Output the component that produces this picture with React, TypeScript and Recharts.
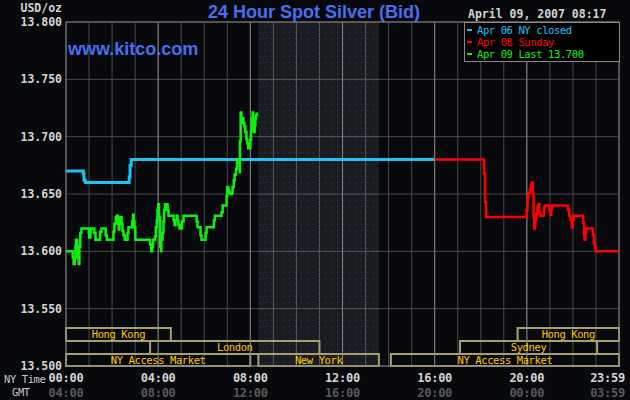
import {
  ComposedChart, Line, XAxis, YAxis, CartesianGrid, ReferenceArea, ReferenceLine, Legend
} from "recharts";

const MONO = '"DejaVu Sans Mono", monospace';
const SANS = '"Liberation Sans", Arial, sans-serif';

// [hour of day (NY time), bid USD/oz]
const apr06 = [
  [0, 13.670], [0.75, 13.668], [0.78, 13.662], [0.84, 13.660], [2.74, 13.665],
  [2.78, 13.675], [2.83, 13.680], [16.0, 13.680],
];

const apr08 = [
  [16.0, 13.680], [18.14, 13.668], [18.19, 13.643], [18.23, 13.630], [19.99, 13.636],
  [20.03, 13.646], [20.07, 13.651], [20.13, 13.654], [20.17, 13.658], [20.22, 13.660],
  [20.26, 13.651], [20.29, 13.630], [20.32, 13.620], [20.36, 13.627], [20.41, 13.633],
  [20.46, 13.639], [20.49, 13.641], [20.54, 13.634], [20.58, 13.631], [20.74, 13.638],
  [20.78, 13.640], [20.98, 13.636], [21.01, 13.632], [21.06, 13.637], [21.1, 13.640],
  [21.79, 13.636], [21.84, 13.631], [21.9, 13.627], [21.95, 13.621], [21.99, 13.627],
  [22.03, 13.631], [22.44, 13.625], [22.48, 13.614], [22.51, 13.610], [22.54, 13.617],
  [22.58, 13.620], [22.87, 13.614], [22.91, 13.607], [22.95, 13.603], [22.99, 13.600],
  [24.0, 13.600],
];

const apr09 = [
  [0, 13.600], [0.29, 13.595], [0.33, 13.589], [0.38, 13.595], [0.41, 13.604],
  [0.43, 13.610], [0.49, 13.604], [0.52, 13.594], [0.55, 13.589], [0.58, 13.604],
  [0.62, 13.616], [0.67, 13.620], [0.99, 13.616], [1.01, 13.612], [1.06, 13.617],
  [1.09, 13.620], [1.23, 13.616], [1.28, 13.610], [1.48, 13.617], [1.54, 13.620],
  [1.72, 13.614], [1.77, 13.610], [2.06, 13.617], [2.1, 13.624], [2.16, 13.630],
  [2.2, 13.631], [2.25, 13.624], [2.29, 13.619], [2.32, 13.627], [2.36, 13.630],
  [2.41, 13.624], [2.45, 13.618], [2.49, 13.614], [2.55, 13.610], [2.67, 13.616],
  [2.71, 13.621], [2.87, 13.626], [2.91, 13.632], [2.94, 13.626], [2.97, 13.621],
  [3.01, 13.610], [3.65, 13.606], [3.7, 13.600], [3.74, 13.604], [3.78, 13.610],
  [3.86, 13.613], [3.9, 13.621], [3.94, 13.627], [3.97, 13.636], [4.01, 13.641],
  [4.04, 13.630], [4.09, 13.604], [4.12, 13.600], [4.14, 13.610], [4.19, 13.616],
  [4.23, 13.626], [4.26, 13.636], [4.3, 13.641], [4.41, 13.636], [4.45, 13.631],
  [4.67, 13.627], [4.71, 13.623], [4.75, 13.627], [4.8, 13.631], [4.84, 13.627],
  [4.88, 13.623], [4.93, 13.620], [5.03, 13.626], [5.1, 13.631], [5.67, 13.626],
  [5.71, 13.621], [5.84, 13.614], [5.88, 13.610], [6.06, 13.616], [6.1, 13.621],
  [6.42, 13.627], [6.46, 13.631], [6.75, 13.634], [6.8, 13.640], [6.97, 13.648],
  [7.0, 13.656], [7.04, 13.653], [7.09, 13.651], [7.13, 13.650], [7.19, 13.651],
  [7.23, 13.656], [7.28, 13.662], [7.32, 13.667], [7.38, 13.672], [7.42, 13.680],
  [7.46, 13.677], [7.51, 13.678], [7.54, 13.669], [7.55, 13.696], [7.58, 13.721],
  [7.61, 13.712], [7.65, 13.716], [7.7, 13.712], [7.74, 13.709], [7.78, 13.704],
  [7.83, 13.698], [7.87, 13.694], [7.91, 13.690], [8.0, 13.697], [8.03, 13.705],
  [8.06, 13.716], [8.1, 13.721], [8.13, 13.710], [8.16, 13.704], [8.19, 13.710],
  [8.22, 13.716], [8.25, 13.719], [8.29, 13.721],
];

const series = [
  { name: "Apr 06 NY closed", color: "#1cc4f2", width: 3, points: apr06 },
  { name: "Apr 08 Sunday", color: "#ff0000", width: 2.5, points: apr08 },
  { name: "Apr 09 Last 13.700", color: "#10f010", width: 2.5, points: apr09 },
];

const priceTicks = [13.5, 13.55, 13.6, 13.65, 13.7, 13.75, 13.8];
const hourTicks = [0, 1, 2, 3, 4, 5, 6, 7, 8, 9, 10, 11, 12, 13, 14, 15, 16, 17, 18, 19, 20, 21, 22, 23, 24];
const majorHours = [0, 4, 8, 12, 16, 20, 24];
const nyLabels = ["00:00", "04:00", "08:00", "12:00", "16:00", "20:00", "23:59"];
const gmtLabels = ["04:00", "08:00", "12:00", "16:00", "20:00", "00:00", "03:59"];

// trading sessions, NY hours
const sessions = [
  { name: "Hong Kong", from: 0, to: 4.55, lane: 0 },
  { name: "Hong Kong", from: 19.6, to: 24, lane: 0 },
  { name: "London", from: 3.65, to: 11.0, lane: 1 },
  { name: "Sydney", from: 17.1, to: 23.05, lane: 1 },
  { name: "NY Access Market", from: 0, to: 8.0, lane: 2 },
  { name: "New York", from: 8.35, to: 13.58, lane: 2 },
  { name: "NY Access Market", from: 14.1, to: 24, lane: 2 },
];

const laneBands = [
  [13.5218, 13.5331],
  [13.5105, 13.5218],
  [13.5, 13.5105],
];

const nySession = sessions.find((s) => s.name === "New York")!;

const HourTick = ({ x, y, payload }: any) => {
  const i = majorHours.indexOf(payload.value);
  if (i < 0) return null;
  const last = i === majorHours.length - 1;
  const tx = last ? x + 6 : x;
  const anchor = last ? "end" : "middle";
  return (
    <g>
      <text x={tx} y={y + 16} textAnchor={anchor} fill="#d4d4d4" fontFamily={MONO} fontWeight="bold" fontSize={12} letterSpacing={-0.25}>
        {nyLabels[i]}
      </text>
      <text x={tx} y={y + 31} textAnchor={anchor} fill="#5a5a5a" fontFamily={MONO} fontWeight="bold" fontSize={12} letterSpacing={-0.25}>
        {gmtLabels[i]}
      </text>
    </g>
  );
};

const LegendBox = ({ payload }: any) => (
  <div style={{ background: "#000", border: "1px solid #8a8a8a", width: 154, height: 37, paddingTop: 1, boxSizing: "content-box" }}>
    {(payload || []).map((p: any) => (
      <div key={p.value} style={{ display: "flex", alignItems: "center", height: 12, color: p.color, fontFamily: MONO, fontSize: 10.5, letterSpacing: -0.4, whiteSpace: "nowrap" }}>
        <span style={{ display: "inline-block", width: 5, height: 2, background: p.color, marginLeft: 2, marginRight: 5 }} />
        {p.value}
      </div>
    ))}
  </div>
);

export default function App() {
  return (
    <div style={{ position: "absolute", left: 0, top: 0, width: 630, height: 400, background: "#07090d" }}>
      <ComposedChart width={630} height={400} margin={{ top: 22, right: 11, bottom: 0, left: 0 }}>
        <defs>
          <pattern id="nyDots" width="6" height="6" patternUnits="userSpaceOnUse">
            <rect width="6" height="6" fill="rgba(255,255,255,0.08)" />
            <rect x="1" y="2" width="1" height="1" fill="#25378c" />
          </pattern>
        </defs>
        <CartesianGrid stroke="#4a4a4a" strokeWidth={1} />
        <XAxis
          dataKey="h"
          type="number"
          domain={[0, 24]}
          ticks={hourTicks}
          interval={0}
          height={34}
          axisLine={false}
          tickLine={false}
          tickSize={0}
          tickMargin={0}
          tick={<HourTick />}
          allowDataOverflow
        />
        <YAxis
          type="number"
          domain={[13.5, 13.8]}
          ticks={priceTicks}
          width={66}
          axisLine={false}
          tickLine={false}
          tickSize={0}
          tickMargin={4}
          tickFormatter={(v: number) => v.toFixed(3)}
          tick={{ fill: "#d4d4d4", fontFamily: MONO, fontWeight: "bold", fontSize: 11.5 }}
          allowDataOverflow
        />
        <ReferenceArea x1={nySession.from} x2={nySession.to} y1={13.5} y2={13.8} fill="url(#nyDots)" fillOpacity={1} stroke="none" ifOverflow="visible" />
        {majorHours.map((h) => (
          <ReferenceLine key={h} x={h} stroke="#808080" strokeWidth={1} ifOverflow="visible" />
        ))}
        <ReferenceLine y={13.8} stroke="#808080" ifOverflow="visible" />
        <ReferenceLine y={13.5} stroke="#808080" ifOverflow="visible" />
        {sessions.map((s, i) => (
          <ReferenceArea
            key={i}
            x1={s.from}
            x2={s.to}
            y1={laneBands[s.lane][0]}
            y2={laneBands[s.lane][1]}
            fill="none"
            stroke="#a8a070"
            strokeWidth={2}
            ifOverflow="visible"
            label={{ value: s.name, position: "center", fill: "#ffc800", fontFamily: MONO, fontSize: 10.5, letterSpacing: -0.4 }}
          />
        ))}
        {series.map((s) => (
          <Line
            key={s.name}
            name={s.name}
            data={s.points.map(([h, v]) => ({ h, v }))}
            dataKey="v"
            type="stepAfter"
            stroke={s.color}
            strokeWidth={s.width}
            dot={false}
            activeDot={false}
            isAnimationActive={false}
          />
        ))}
        <Legend
          layout="horizontal"
          verticalAlign="middle"
          align="center"
          content={<LegendBox />}
          wrapperStyle={{ top: 22, left: 464, width: 156, height: 39 }}
        />
        <text x={62} y={12} textAnchor="end" fill="#d4d4d4" fontFamily={MONO} fontWeight="bold" fontSize={11.5}>USD/oz</text>
        <text x={314} y={17.5} textAnchor="middle" fill="#4a6ef2" fontFamily={SANS} fontWeight="bold" fontSize={18}>24 Hour Spot Silver (Bid)</text>
        <text x={68} y={55} fill="#4a6ef2" fontFamily={SANS} fontWeight="bold" fontSize={18}>www.kitco.com</text>
        <text x={468} y={18} fill="#d4d4d4" fontFamily={MONO} fontWeight="bold" fontSize={11.5}>April 09, 2007 08:17</text>
        <text x={4} y={383} fill="#c8c8c8" fontFamily={MONO} fontSize={10.5} letterSpacing={-0.4}>NY Time</text>
        <text x={12} y={396} fill="#c8c8c8" fontFamily={MONO} fontSize={10.5} letterSpacing={-0.4}>GMT</text>
      </ComposedChart>
    </div>
  );
}
